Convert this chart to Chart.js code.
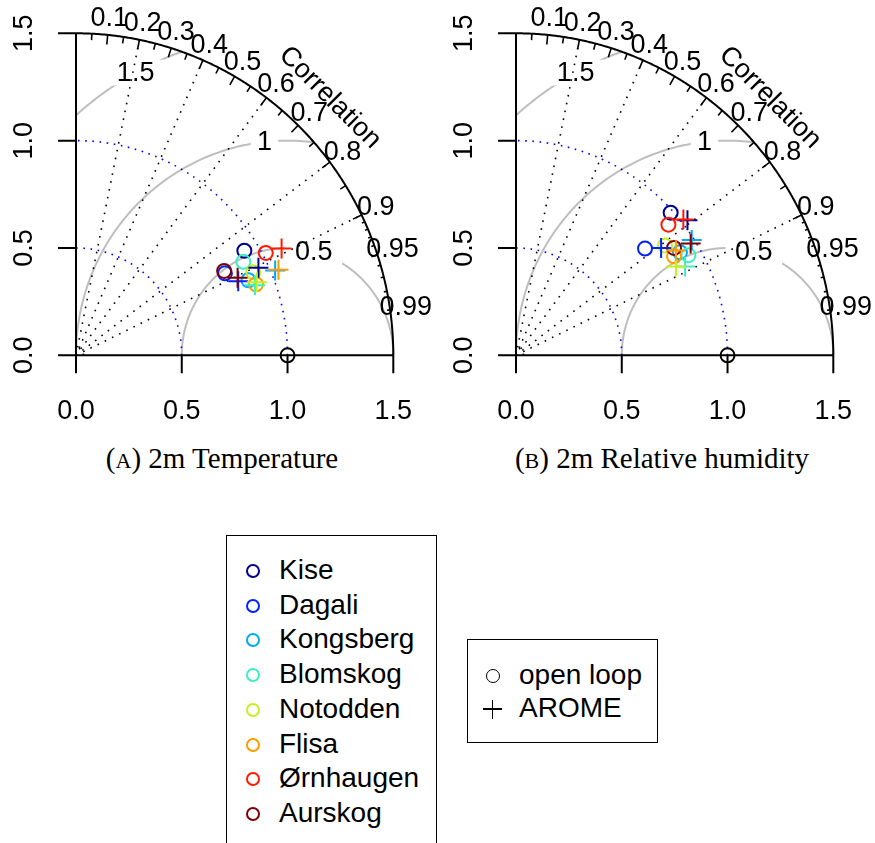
<!DOCTYPE html>
<html>
<head>
<meta charset="utf-8">
<script src="https://cdn.jsdelivr.net/npm/chart.js@4.4.0/dist/chart.umd.min.js"></script>
<style>
    body { margin: 0; background: #fff; }
    #page { position: relative; width: 875px; height: 843px; overflow: hidden; font-family: "Liberation Sans", Arial, sans-serif; color: #000; }
    canvas { position: absolute; top: 0; }
    #chartA { left: 0; }
    #chartB { left: 440px; }
    .caption { position: absolute; top: 441px; font-family: "Liberation Serif", serif; font-size: 29px; line-height: 34px; white-space: nowrap; transform: translateX(-50%); }
    .caption .sc { font-size: 22px; }
    .legend { position: absolute; border: 1.5px solid #000; box-sizing: border-box; }
    .item { position: absolute; font-size: 28px; line-height: 30px; white-space: nowrap; }
    .ring { position: absolute; width: 14px; height: 14px; border: 2px solid #000; border-radius: 50%; box-sizing: border-box; }
    .bar { position: absolute; background: #000; }
</style>
</head>
<body>
<div id="page">
    <canvas id="chartA" width="440" height="440"></canvas>
    <canvas id="chartB" width="435" height="440"></canvas>
    <div class="caption" style="left:222px">(<span class="sc">A</span>) 2m Temperature</div>
    <div class="caption" style="left:662px">(<span class="sc">B</span>) 2m Relative humidity</div>
    <div class="legend" id="legendStations" style="left:226px; top:535px; width:211px; height:340px"></div>
    <div class="legend" id="legendModels" style="left:467px; top:639px; width:191px; height:104px"></div>
</div>
<script>
'use strict';

// --- Data (normalised standard deviation and correlation) ---
const stations = ['Kise', 'Dagali', 'Kongsberg', 'Blomskog', 'Notodden', 'Flisa', 'Ørnhaugen', 'Aurskog'];
const models = ['open loop', 'AROME'];

// (A) 2m Temperature
const tempOpenLoopSd  = [0.933, 0.801, 0.887, 0.903, 0.923, 0.913, 1.016, 0.803];
const tempOpenLoopCor = [0.853, 0.879, 0.919, 0.876, 0.908, 0.932, 0.883, 0.872];
const tempAromeSd     = [0.954, 0.841, 1.021, 0.907, 0.920, 1.037, 1.092, 0.845];
const tempAromeCor    = [0.904, 0.912, 0.922, 0.933, 0.929, 0.923, 0.890, 0.904];

// (B) 2m Relative humidity
const rhOpenLoopSd  = [0.988, 0.787, 0.912, 0.939, 0.871, 0.878, 0.943, 0.899];
const rhOpenLoopCor = [0.740, 0.775, 0.850, 0.868, 0.809, 0.851, 0.764, 0.831];
const rhAromeSd     = [1.026, 0.849, 0.989, 0.900, 0.862, 0.900, 1.013, 0.976];
const rhAromeCor    = [0.790, 0.808, 0.840, 0.888, 0.877, 0.840, 0.781, 0.846];

// Diagram furniture
const refSd = 1.0;
const maxSd = 1.5;
const sdTicks = [0.0, 0.5, 1.0, 1.5];
const sdTickLabels = ['0.0', '0.5', '1.0', '1.5'];
const corrLabels = [0.1, 0.2, 0.3, 0.4, 0.5, 0.6, 0.7, 0.8, 0.9, 0.95, 0.99];
const corrLines = [0.2, 0.4, 0.6, 0.8, 0.9];
const rmsArcs = [0.5, 1, 1.5];
const sdArcs = [0.5, 1.0];

const stationColors = ['#00008b', '#0022ff', '#00aaff', '#3ef0c0', '#c4f020', '#ff9a00', '#ff1a00', '#7f0000'];

// --- Taylor diagram background, drawn with the chart's own scales ---
const taylorGrid = {
    id: 'taylorGrid',
    beforeDatasetsDraw: (chart) => {
        const ctx = chart.ctx;
        const xs = chart.scales.x;
        const ys = chart.scales.y;
        const px = v => xs.getPixelForValue(v);
        const py = v => ys.getPixelForValue(v);
        const font = '27px "Liberation Sans", Arial, sans-serif';

        const path = (pts) => {
            ctx.beginPath();
            pts.forEach((p, i) => {
                if (i === 0) ctx.moveTo(px(p[0]), py(p[1]));
                else ctx.lineTo(px(p[0]), py(p[1]));
            });
            ctx.stroke();
        };
        const arcPts = (cx, cy, r, a0, a1, n) => {
            const pts = [];
            for (let i = 0; i <= n; i++) {
                const a = a0 + (a1 - a0) * i / n;
                pts.push([cx + r * Math.cos(a), cy + r * Math.sin(a)]);
            }
            return pts;
        };
        const polar = (r, c) => [r * c, r * Math.sqrt(1 - c * c)];

        ctx.save();

        // centred RMS difference arcs around the reference point
        ctx.strokeStyle = '#bebebe';
        ctx.lineWidth = 2;
        ctx.setLineDash([]);
        rmsArcs.forEach(g => {
            const pts = arcPts(refSd, 0, g, 0, Math.PI, 600)
                .filter(p => p[0] >= 0 && p[0] * p[0] + p[1] * p[1] <= maxSd * maxSd + 1e-9);
            path(pts);
        });

        // boxed labels on the RMS arcs
        ctx.font = font;
        ctx.textAlign = 'center';
        ctx.textBaseline = 'middle';
        rmsArcs.forEach((g, i) => {
            const idx = Math.floor(45 + (70 - 45) * i / (rmsArcs.length - 1));
            const a = (idx - 1) * 0.03;
            const x = px(refSd + g * Math.cos(a));
            const y = py(g * Math.sin(a));
            const label = String(g);
            const w = ctx.measureText(label).width * 1.3 + 8;
            const h = 26;
            ctx.fillStyle = '#fff';
            ctx.fillRect(x - w / 2, y - h / 2, w, h);
            ctx.fillStyle = '#000';
            ctx.fillText(label, x, y + 1);
        });

        // correlation rays
        ctx.strokeStyle = '#000';
        ctx.lineWidth = 1.6;
        ctx.setLineDash([1.6, 6.4]);
        corrLines.forEach(c => path([[0, 0], polar(maxSd, c)]));

        // standard deviation arcs
        ctx.strokeStyle = '#0000ff';
        ctx.setLineDash([1.6, 5.6]);
        sdArcs.forEach(s => path(arcPts(0, 0, s, 0, Math.PI / 2, 300)));
        ctx.strokeStyle = '#000';
        path(arcPts(0, 0, 0.035, 0, Math.PI / 2, 20));

        // axes, outer arc and ticks
        ctx.setLineDash([]);
        ctx.lineWidth = 2;
        ctx.strokeStyle = '#000';
        path([[0, maxSd], [0, 0], [maxSd, 0]]);
        path(arcPts(0, 0, maxSd, 0, Math.PI / 2, 400));
        sdTicks.forEach(t => {
            ctx.beginPath();
            ctx.moveTo(px(t), py(0));
            ctx.lineTo(px(t), py(0) + 18);
            ctx.moveTo(px(0), py(t));
            ctx.lineTo(px(0) - 18, py(t));
            ctx.stroke();
        });
        const tick = (c, len) => path([polar(maxSd, c), polar(maxSd * (1 - len), c)]);
        ctx.lineWidth = 1.6;
        for (let k = 1; k <= 9; k++) tick(k / 10, 0.03);
        for (let k = 0; k <= 9; k++) tick(0.05 + k / 10, 0.02);
        for (let k = 1; k <= 9; k++) tick(0.9 + k / 100, 0.01);

        // axis tick labels
        ctx.fillStyle = '#000';
        ctx.font = font;
        ctx.textAlign = 'center';
        ctx.textBaseline = 'middle';
        sdTicks.forEach((t, i) => {
            ctx.fillText(sdTickLabels[i], px(t), py(0) + 56);
            ctx.save();
            ctx.translate(px(0) - 51, py(t));
            ctx.rotate(-Math.PI / 2);
            ctx.fillText(sdTickLabels[i], 0, 0);
            ctx.restore();
        });

        // correlation labels
        corrLabels.forEach(c => {
            const p = polar(maxSd * 1.05, c);
            ctx.fillText(String(c), px(p[0]), py(p[1]));
        });
        ctx.save();
        ctx.translate(px(maxSd * 0.8), py(maxSd * 0.8));
        ctx.rotate(Math.PI / 4);
        ctx.fillText('Correlation', 0, 0);
        ctx.restore();

        ctx.restore();
    }
};

// --- Build scatter datasets for one panel ---
const buildDatasets = (olSd, olCor, arSd, arCor) => {
    const toPoint = (s, c) => ({ x: s * c, y: s * Math.sqrt(1 - c * c) });
    const sets = [{
        data: [toPoint(refSd, 1)],
        pointStyle: 'circle', pointRadius: 7, borderColor: '#000'
    }];
    stations.forEach((name, i) => {
        sets.push({ label: name + ' ' + models[0], data: [toPoint(olSd[i], olCor[i])],
            pointStyle: 'circle', pointRadius: 7, borderColor: stationColors[i] });
    });
    stations.forEach((name, i) => {
        sets.push({ label: name + ' ' + models[1], data: [toPoint(arSd[i], arCor[i])],
            pointStyle: 'cross', pointRadius: 10, borderColor: stationColors[i] });
    });
    // later points are drawn on top, as in the original
    return sets.map((s, i) => Object.assign(s, {
        order: sets.length - i,
        borderWidth: 2,
        pointBorderWidth: 2,
        backgroundColor: 'rgba(0,0,0,0)',
        pointHoverRadius: s.pointRadius,
        clip: false,
        showLine: false
    }));
};

const makeChart = (id, sets, padRight) => new Chart(document.getElementById(id), {
    type: 'scatter',
    data: { datasets: sets },
    options: {
        responsive: false,
        animation: false,
        devicePixelRatio: 1,
        layout: { padding: { left: 76, right: padRight, top: 33.3, bottom: 84.7 } },
        plugins: { legend: { display: false }, tooltip: { enabled: false } },
        scales: {
            x: { type: 'linear', min: 0, max: maxSd, display: false },
            y: { type: 'linear', min: 0, max: maxSd, display: false }
        }
    },
    plugins: [taylorGrid]
});

makeChart('chartA', buildDatasets(tempOpenLoopSd, tempOpenLoopCor, tempAromeSd, tempAromeCor), 46.7);
makeChart('chartB', buildDatasets(rhOpenLoopSd, rhOpenLoopCor, rhAromeSd, rhAromeCor), 41.7);

// --- Legends ---
const legendStations = document.getElementById('legendStations');
stations.forEach((name, i) => {
    const cy = 35 + i * 34.7;
    const ring = document.createElement('div');
    ring.className = 'ring';
    ring.style.cssText = 'left:' + (25.7 - 7) + 'px; top:' + (cy - 7) + 'px; border-color:' + stationColors[i];
    legendStations.appendChild(ring);
    const txt = document.createElement('div');
    txt.className = 'item';
    txt.style.cssText = 'left:52px; top:' + (cy - 16) + 'px';
    txt.textContent = name;
    legendStations.appendChild(txt);
});

const legendModels = document.getElementById('legendModels');
models.forEach((name, i) => {
    const cy = 36 + i * 33;
    if (i === 0) {
        const ring = document.createElement('div');
        ring.className = 'ring';
        ring.style.cssText = 'left:' + (24.7 - 7) + 'px; top:' + (cy - 7) + 'px; border-width:1.5px';
        legendModels.appendChild(ring);
    } else {
        const h = document.createElement('div');
        h.className = 'bar';
        h.style.cssText = 'left:' + (24.7 - 9.5) + 'px; top:' + (cy - 0.75) + 'px; width:19px; height:1.5px';
        const v = document.createElement('div');
        v.className = 'bar';
        v.style.cssText = 'left:' + (24.7 - 0.75) + 'px; top:' + (cy - 9.5) + 'px; width:1.5px; height:19px';
        legendModels.appendChild(h);
        legendModels.appendChild(v);
    }
    const txt = document.createElement('div');
    txt.className = 'item';
    txt.style.cssText = 'left:51px; top:' + (cy - 16) + 'px';
    txt.textContent = name;
    legendModels.appendChild(txt);
});
</script>
</body>
</html>
